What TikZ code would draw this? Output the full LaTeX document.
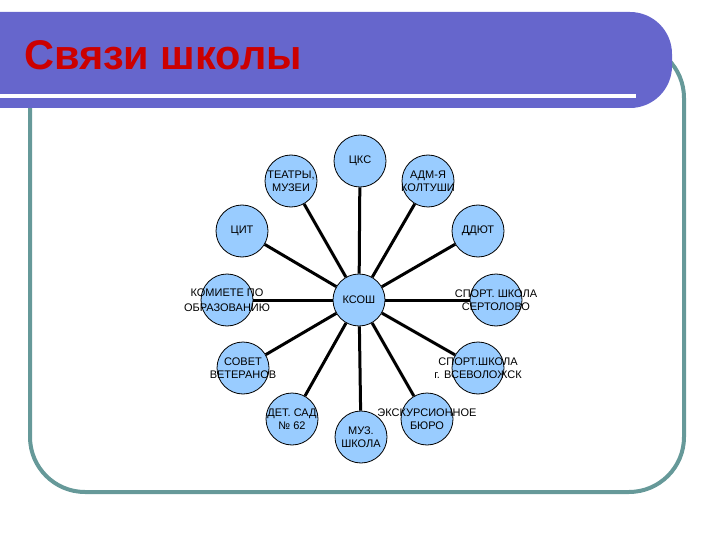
\documentclass[tikz,border=0pt]{standalone}
\usepackage{fontspec}
\setmainfont{Liberation Sans}
\definecolor{bandblue}{RGB}{102,102,204}
\definecolor{frameteal}{RGB}{102,153,153}
\definecolor{titlered}{RGB}{204,0,0}
\definecolor{clubblue}{RGB}{153,204,255}
\begin{document}
\begin{tikzpicture}[x=1pt,y=-1pt,
    club/.style={circle,draw=black,line width=.8pt,fill=clubblue,minimum size=52pt,inner sep=0pt},
    clubtext/.style={font=\fontsize{11}{13}\selectfont,align=center,inner sep=0pt},
    link/.style={line width=3pt}]
    \useasboundingbox (0,0) rectangle (720,540);
    \draw[frameteal,line width=4pt,rounded corners=55pt] (30,43) rectangle (684,492);
    \fill[bandblue] (0,12) -- (630,12) arc[start angle=-90,end angle=0,radius=42]
        -- (672,66) arc[start angle=0,end angle=90,radius=42] -- (0,108) -- cycle;
    \draw[white,line width=4pt] (0,96) -- (636,96);
    \node[anchor=base west,inner sep=0pt,text=titlered,font=\fontsize{41.5}{48}\selectfont\bfseries] (title) at (24,70) {Связи школы};
    \node[club,label={[clubtext]center:КСОШ}] (ksosh) at (359,300) {};
    \node[club,label={[clubtext]center:ЦКС}] (cks) at (360,161) {};
    \node[club,label={[clubtext]center:{ТЕАТРЫ,\\МУЗЕИ}}] (teatry) at (291,181) {};
    \node[club,label={[clubtext]center:{АДМ-Я\\КОЛТУШИ}}] (adm) at (428,181) {};
    \node[club,label={[clubtext]center:ЦИТ}] (cit) at (242,231) {};
    \node[club,label={[clubtext]center:ДДЮТ}] (ddyut) at (478,231) {};
    \node[club,label={[clubtext,font=\fontsize{11}{15}\selectfont]center:{КОМИЕТЕ ПО\\ОБРАЗОВАНИЮ}}] (komitet) at (227,300) {};
    \node[club,label={[clubtext]center:{СПОРТ. ШКОЛА\\СЕРТОЛОВО}}] (sertolovo) at (496,300) {};
    \node[club,label={[clubtext]center:{СОВЕТ\\ВЕТЕРАНОВ}}] (sovet) at (243,368) {};
    \node[club,label={[clubtext]center:{СПОРТ.ШКОЛА\\г. ВСЕВОЛОЖСК}}] (vsevolozhsk) at (478,368) {};
    \node[club,label={[clubtext]center:{ДЕТ. САД\\№ 62}}] (detsad) at (292,419) {};
    \node[club,label={[clubtext]center:{МУЗ.\\ШКОЛА}}] (muz) at (361,437) {};
    \node[club,label={[clubtext]center:{ЭКСКУРСИОННОЕ\\БЮРО}}] (buro) at (427,419) {};
    \foreach \n in {cks,teatry,adm,cit,ddyut,komitet,sertolovo,sovet,vsevolozhsk,detsad,muz,buro}
        \draw[link] (ksosh) -- (\n);
\end{tikzpicture}
\end{document}
